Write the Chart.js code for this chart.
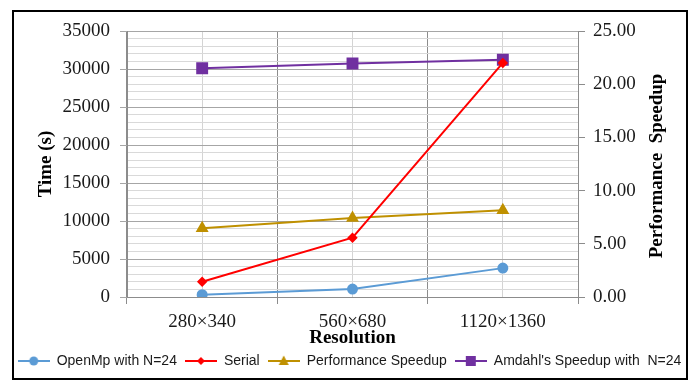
<!DOCTYPE html>
<html>
<head>
<meta charset="utf-8">
<script src="https://cdn.jsdelivr.net/npm/chart.js@4"></script>
<style>
html, body { margin: 0; padding: 0; background: #fff; }
</style>
</head>
<body>
<canvas id="lineChart" width="699" height="381"></canvas>
<script>
// data
var resolutions = ["280×340", "560×680", "1120×1360"];
var openMpTimes = [310, 1050, 3800];
var serialTimes = [2000, 7800, 30800];
var perfSpeedup = [6.45, 7.43, 8.15];
var amdahlSpeedup = [21.5, 21.95, 22.3];
var timeMax = 35000, timeMajor = 5000, timeMinor = 1000;
var speedMax = 25, speedStep = 5;

var serif = "'Liberation Serif', 'Times New Roman', serif";
var section = document.getElementById("lineChart");

var series = [
    {label: "OpenMp with N=24", data: openMpTimes, color: "#5B9BD5", style: "circle", radius: 4.5, axis: "y"},
    {label: "Serial", data: serialTimes, color: "#FF0000", style: "rectRot", radius: 3.8, axis: "y"},
    {label: "Performance Speedup", data: perfSpeedup, color: "#BF9000", style: "triangle", radius: 5.5, axis: "y1"},
    {label: "Amdahl's Speedup with  N=24", data: amdahlSpeedup, color: "#7030A0", style: "rect", radius: 7, axis: "y1"}
];

// little line + marker pictures for the legend
function legendIcon(s) {
    var c = document.createElement("canvas");
    c.width = 32; c.height = 14;
    var ctx = c.getContext("2d");
    ctx.strokeStyle = s.color; ctx.fillStyle = s.color; ctx.lineWidth = 2;
    ctx.beginPath(); ctx.moveTo(0, 7); ctx.lineTo(32, 7); ctx.stroke();
    ctx.beginPath();
    if (s.style == "circle") {
        ctx.arc(16, 7, 4.5, 0, Math.PI * 2);
    } else if (s.style == "rectRot") {
        ctx.moveTo(16, 3); ctx.lineTo(20, 7); ctx.lineTo(16, 11); ctx.lineTo(12, 7);
    } else if (s.style == "triangle") {
        ctx.moveTo(16, 1.5); ctx.lineTo(21, 11); ctx.lineTo(11, 11);
    } else {
        ctx.rect(11, 2, 10, 10);
    }
    ctx.closePath(); ctx.fill();
    return c;
}

var frame = {
    id: "frame",
    beforeDraw: function(chart) {
        var ctx = chart.ctx;
        ctx.save();
        ctx.fillStyle = "#fff";
        ctx.fillRect(0, 0, chart.width, chart.height);
        ctx.restore();
    },
    afterDraw: function(chart) {
        var ctx = chart.ctx;
        var area = chart.chartArea;
        ctx.save();
        ctx.strokeStyle = "#000";
        ctx.lineWidth = 2;
        ctx.strokeRect(13, 11, 674, 368);
        // right title reads bottom to top, like the left one
        ctx.translate(657, (area.top + area.bottom) / 2 + 2);
        ctx.rotate(-Math.PI / 2);
        ctx.font = "bold 19px " + serif;
        ctx.textAlign = "center";
        ctx.textBaseline = "middle";
        ctx.fillStyle = "#000";
        ctx.fillText("Performance  Speedup", 0, 0);
        ctx.restore();
    }
};

var datasets = series.map(function(s) {
    return {
        label: s.label,
        data: s.data,
        yAxisID: s.axis,
        borderColor: s.color,
        backgroundColor: s.color,
        pointBackgroundColor: s.color,
        pointBorderColor: s.color,
        pointStyle: s.style,
        pointRadius: s.radius,
        pointHoverRadius: s.radius,
        borderWidth: 2,
        tension: 0,
        fill: false
    };
});

var myChart = new Chart(section, {
    type: "line",
    data: {labels: resolutions, datasets: datasets},
    plugins: [frame],
    options: {
        responsive: false,
        animation: false,
        layout: {padding: {top: 31, left: 0, right: 0, bottom: 3}},
        plugins: {
            tooltip: {enabled: false},
            legend: {
                position: "bottom",
                labels: {
                    usePointStyle: true,
                    pointStyleWidth: 32,
                    padding: 8,
                    color: "#1a1a1a",
                    font: {family: "'Liberation Sans', Arial, sans-serif", size: 14},
                    generateLabels: function(chart) {
                        var items = Chart.defaults.plugins.legend.labels.generateLabels(chart);
                        items.forEach(function(it, i) { it.pointStyle = legendIcon(series[i]); });
                        return items;
                    }
                }
            }
        },
        scales: {
            x: {
                type: "category",
                offset: true,
                grid: {offset: true, color: "#8C8C8C", tickColor: "#8C8C8C", tickLength: 7},
                border: {color: "#8C8C8C"},
                ticks: {color: "#1a1a1a", font: {family: serif, size: 19}, padding: 7},
                title: {display: true, text: "Resolution", color: "#000",
                        font: {family: serif, size: 19, weight: "bold", lineHeight: 1}, padding: {top: 0, bottom: -2}},
                afterFit: function(scale) { scale.height = 49; }
            },
            x2: {
                type: "category",
                position: "bottom",
                offset: true,
                grid: {offset: false, color: "#D4D4D4", drawTicks: false},
                border: {display: false},
                ticks: {display: false},
                afterFit: function(scale) { scale.height = 0; }
            },
            y: {
                position: "left",
                min: 0,
                max: timeMax,
                ticks: {
                    stepSize: timeMinor,
                    maxTicksLimit: 50,
                    autoSkip: false,
                    color: "#1a1a1a",
                    padding: 10,
                    font: {family: serif, size: 19},
                    callback: function(v) { return v % timeMajor == 0 ? String(v) : ""; }
                },
                grid: {
                    tickLength: 7,
                    color: function(c) { return c.tick && c.tick.value % timeMajor == 0 ? "#A6A6A6" : "#D9D9D9"; },
                    tickColor: function(c) { return c.tick && c.tick.value % timeMajor == 0 ? "#A6A6A6" : "rgba(0,0,0,0)"; }
                },
                border: {color: "#8C8C8C"},
                title: {display: true, text: "Time (s)", color: "#000",
                        font: {family: serif, size: 19, weight: "bold"}, padding: {top: 35, bottom: 0}},
                afterFit: function(scale) { scale.width = 127; }
            },
            y1: {
                position: "right",
                min: 0,
                max: speedMax,
                ticks: {
                    stepSize: speedStep,
                    color: "#1a1a1a",
                    padding: 8,
                    font: {family: serif, size: 19},
                    callback: function(v) { return v.toFixed(2); }
                },
                grid: {drawOnChartArea: false, tickLength: 7, tickColor: "#8C8C8C"},
                border: {color: "#8C8C8C"},
                afterFit: function(scale) { scale.width = 121; }
            }
        }
    }
});
</script>
</body>
</html>
